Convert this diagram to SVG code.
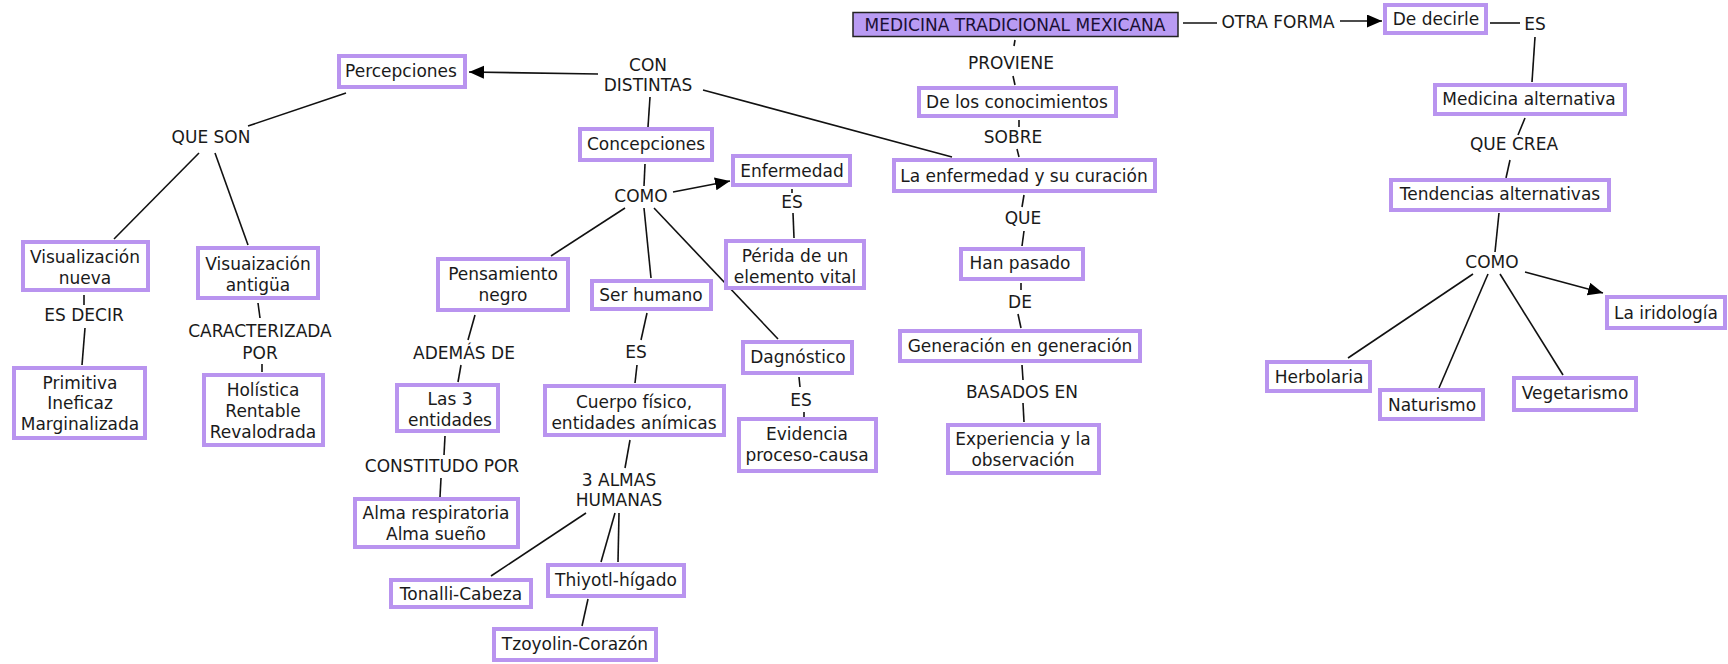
<svg xmlns="http://www.w3.org/2000/svg" width="1728" height="664" viewBox="0 0 1728 664">
<style>
text{font-family:"DejaVu Sans","Liberation Sans",sans-serif;font-size:17px;fill:#1a1a1a;text-anchor:middle;dominant-baseline:central}
.n rect{fill:#ffffff;stroke:#b994ef;stroke-width:4}
.root rect{fill:#b99bf3;stroke:#222;stroke-width:1.5}
.root text{fill:#1a0f33}
#connectors line{stroke:#111;stroke-width:1.6;fill:none}
#connectors line.a{marker-end:url(#arr)}
</style>
<defs>
<marker id="arr" markerUnits="userSpaceOnUse" markerWidth="16" markerHeight="14" refX="15" refY="6.5" orient="auto">
<path d="M0,0 L15,6.5 L0,13 Z" fill="#000"/>
</marker>
</defs>
<rect width="1728" height="664" fill="#fff"/>
<g id="connectors">
<line x1="1183" y1="23" x2="1217" y2="23"/>
<line class="a" x1="1340" y1="21" x2="1382" y2="21"/>
<line x1="1490" y1="23" x2="1520" y2="23"/>
<line x1="1535" y1="37" x2="1532" y2="82"/>
<line x1="1525" y1="118" x2="1518" y2="135"/>
<line x1="1510" y1="160" x2="1506" y2="178"/>
<line x1="1499" y1="213" x2="1495" y2="252"/>
<line class="a" x1="1525" y1="272" x2="1603" y2="293"/>
<line x1="1473" y1="274" x2="1348" y2="358"/>
<line x1="1488" y1="274" x2="1439" y2="388"/>
<line x1="1500" y1="274" x2="1563" y2="375"/>
<line x1="1015" y1="40" x2="1014" y2="46"/>
<line x1="1013" y1="76" x2="1015" y2="85"/>
<line x1="1019" y1="120" x2="1019" y2="127"/>
<line x1="1017" y1="149" x2="1019" y2="157"/>
<line x1="1024" y1="195" x2="1022" y2="207"/>
<line x1="1024" y1="231" x2="1022" y2="246"/>
<line x1="1021" y1="283" x2="1021" y2="290"/>
<line x1="1018" y1="314" x2="1021" y2="328"/>
<line x1="1022" y1="365" x2="1023" y2="380"/>
<line x1="1023" y1="403" x2="1024" y2="422"/>
<line x1="703" y1="90" x2="952" y2="157"/>
<line class="a" x1="598" y1="74" x2="469" y2="72"/>
<line x1="650" y1="97" x2="648" y2="127"/>
<line x1="645" y1="164" x2="644" y2="186"/>
<line class="a" x1="673" y1="192" x2="730" y2="181"/>
<line x1="792" y1="189" x2="792" y2="193"/>
<line x1="793" y1="213" x2="794" y2="238"/>
<line x1="625" y1="208" x2="551" y2="256"/>
<line x1="644" y1="208" x2="651" y2="278"/>
<line x1="654" y1="208" x2="778" y2="339"/>
<line x1="799" y1="377" x2="800" y2="387"/>
<line x1="804" y1="412" x2="804" y2="417"/>
<line x1="475" y1="315" x2="468" y2="340"/>
<line x1="461" y1="365" x2="458" y2="382"/>
<line x1="445" y1="436" x2="444" y2="455"/>
<line x1="441" y1="478" x2="440" y2="497"/>
<line x1="647" y1="313" x2="641" y2="340"/>
<line x1="637" y1="365" x2="635" y2="383"/>
<line x1="630" y1="440" x2="625" y2="468"/>
<line x1="586" y1="513" x2="491" y2="576"/>
<line x1="615" y1="513" x2="601" y2="562"/>
<line x1="619" y1="513" x2="618" y2="562"/>
<line x1="588" y1="599" x2="582" y2="626"/>
<line x1="346" y1="93" x2="248" y2="126"/>
<line x1="199" y1="153" x2="114" y2="239"/>
<line x1="215" y1="153" x2="248" y2="245"/>
<line x1="84" y1="295" x2="84" y2="305"/>
<line x1="85" y1="328" x2="82" y2="365"/>
<line x1="258" y1="303" x2="260" y2="318"/>
<line x1="262" y1="364" x2="262" y2="372"/>
</g>
<g id="labels">
<text x="1278" y="22">OTRA FORMA</text>
<text x="1011" y="63">PROVIENE</text>
<text x="1013" y="137">SOBRE</text>
<text x="1023" y="218">QUE</text>
<text x="1020" y="302">DE</text>
<text x="1022" y="392">BASADOS EN</text>
<text x="1535" y="24">ES</text>
<text x="1514" y="144">QUE CREA</text>
<text x="1492" y="262">COMO</text>
<text x="648" y="65">CON</text>
<text x="648" y="85">DISTINTAS</text>
<text x="641" y="196">COMO</text>
<text x="792" y="202">ES</text>
<text x="636" y="352">ES</text>
<text x="801" y="400">ES</text>
<text x="464" y="353">ADEMÁS DE</text>
<text x="442" y="466">CONSTITUDO POR</text>
<text x="619" y="480">3 ALMAS</text>
<text x="619" y="500">HUMANAS</text>
<text x="211" y="137">QUE SON</text>
<text x="84" y="315">ES DECIR</text>
<text x="260" y="331">CARACTERIZADA</text>
<text x="260" y="353">POR</text>
</g>
<g id="n-medicina" class="root"><rect x="853" y="12.5" width="325" height="24"/><text x="1015" y="25">MEDICINA TRADICIONAL MEXICANA</text></g>
<g id="n-dedecirle" class="n"><rect x="1385" y="5" width="101" height="28"/><text x="1436" y="19">De decirle</text></g>
<g id="n-medalt" class="n"><rect x="1435" y="85" width="190" height="29"/><text x="1529" y="99">Medicina alternativa</text></g>
<g id="n-tendencias" class="n"><rect x="1391" y="180" width="218" height="30"/><text x="1500" y="194">Tendencias alternativas</text></g>
<g id="n-iridologia" class="n"><rect x="1607" y="297" width="118" height="31"/><text x="1666" y="313">La iridología</text></g>
<g id="n-herbolaria" class="n"><rect x="1267" y="362" width="103" height="29"/><text x="1319" y="377">Herbolaria</text></g>
<g id="n-naturismo" class="n"><rect x="1380" y="390" width="103" height="29"/><text x="1432" y="405">Naturismo</text></g>
<g id="n-vegetarismo" class="n"><rect x="1514" y="378" width="122" height="32"/><text x="1575" y="393">Vegetarismo</text></g>
<g id="n-conocimientos" class="n"><rect x="919" y="88" width="197" height="28"/><text x="1017" y="102">De los conocimientos</text></g>
<g id="n-laenfermedad" class="n"><rect x="894" y="160" width="261" height="31"/><text x="1024" y="176">La enfermedad y su curación</text></g>
<g id="n-hanpasado" class="n"><rect x="961" y="249" width="122" height="30"/><text x="1020" y="263">Han pasado</text></g>
<g id="n-generacion" class="n"><rect x="900" y="331" width="240" height="30"/><text x="1020" y="346">Generación en generación</text></g>
<g id="n-experiencia" class="n"><rect x="948" y="425" width="151" height="48"/><text x="1023" y="439">Experiencia y la</text><text x="1023" y="460">observación</text></g>
<g id="n-percepciones" class="n"><rect x="339" y="56" width="126" height="31"/><text x="401" y="71">Percepciones</text></g>
<g id="n-concepciones" class="n"><rect x="580" y="129" width="132" height="31"/><text x="646" y="144">Concepciones</text></g>
<g id="n-enfermedad" class="n"><rect x="733" y="156" width="117" height="29"/><text x="792" y="171">Enfermedad</text></g>
<g id="n-perida" class="n"><rect x="726" y="241" width="138" height="47"/><text x="795" y="256">Périda de un</text><text x="795" y="277">elemento vital</text></g>
<g id="n-pensamiento" class="n"><rect x="438" y="259" width="130" height="51"/><text x="503" y="274">Pensamiento</text><text x="503" y="295">negro</text></g>
<g id="n-serhumano" class="n"><rect x="592" y="281" width="119" height="28"/><text x="651" y="295">Ser humano</text></g>
<g id="n-dagnostico" class="n"><rect x="743" y="342" width="109" height="31"/><text x="798" y="357">Dagnóstico</text></g>
<g id="n-evidencia" class="n"><rect x="739" y="419" width="137" height="52"/><text x="807" y="434">Evidencia</text><text x="807" y="455">proceso-causa</text></g>
<g id="n-las3" class="n"><rect x="397" y="385" width="101" height="46"/><text x="450" y="399">Las 3</text><text x="450" y="420">entidades</text></g>
<g id="n-alma" class="n"><rect x="355" y="499" width="163" height="48"/><text x="436" y="513">Alma respiratoria</text><text x="436" y="534">Alma sueño</text></g>
<g id="n-cuerpo" class="n"><rect x="545" y="386" width="179" height="49"/><text x="634" y="402">Cuerpo físico,</text><text x="634" y="423">entidades anímicas</text></g>
<g id="n-tonalli" class="n"><rect x="391" y="580" width="140" height="27"/><text x="461" y="594">Tonalli-Cabeza</text></g>
<g id="n-thiyotl" class="n"><rect x="548" y="565" width="136" height="31"/><text x="616" y="580">Thiyotl-hígado</text></g>
<g id="n-tzoyolin" class="n"><rect x="494" y="629" width="162" height="31"/><text x="575" y="644">Tzoyolin-Corazón</text></g>
<g id="n-visnueva" class="n"><rect x="23" y="242" width="125" height="48"/><text x="85" y="257">Visualización</text><text x="85" y="278">nueva</text></g>
<g id="n-visantigua" class="n"><rect x="198" y="248" width="120" height="50"/><text x="258" y="264">Visuaización</text><text x="258" y="285">antigüa</text></g>
<g id="n-primitiva" class="n"><rect x="14" y="368" width="131" height="70"/><text x="80" y="383">Primitiva</text><text x="80" y="403">Ineficaz</text><text x="80" y="424">Marginalizada</text></g>
<g id="n-holistica" class="n"><rect x="204" y="375" width="119" height="70"/><text x="263" y="390">Holística</text><text x="263" y="411">Rentable</text><text x="263" y="432">Revalodrada</text></g>
</svg>
